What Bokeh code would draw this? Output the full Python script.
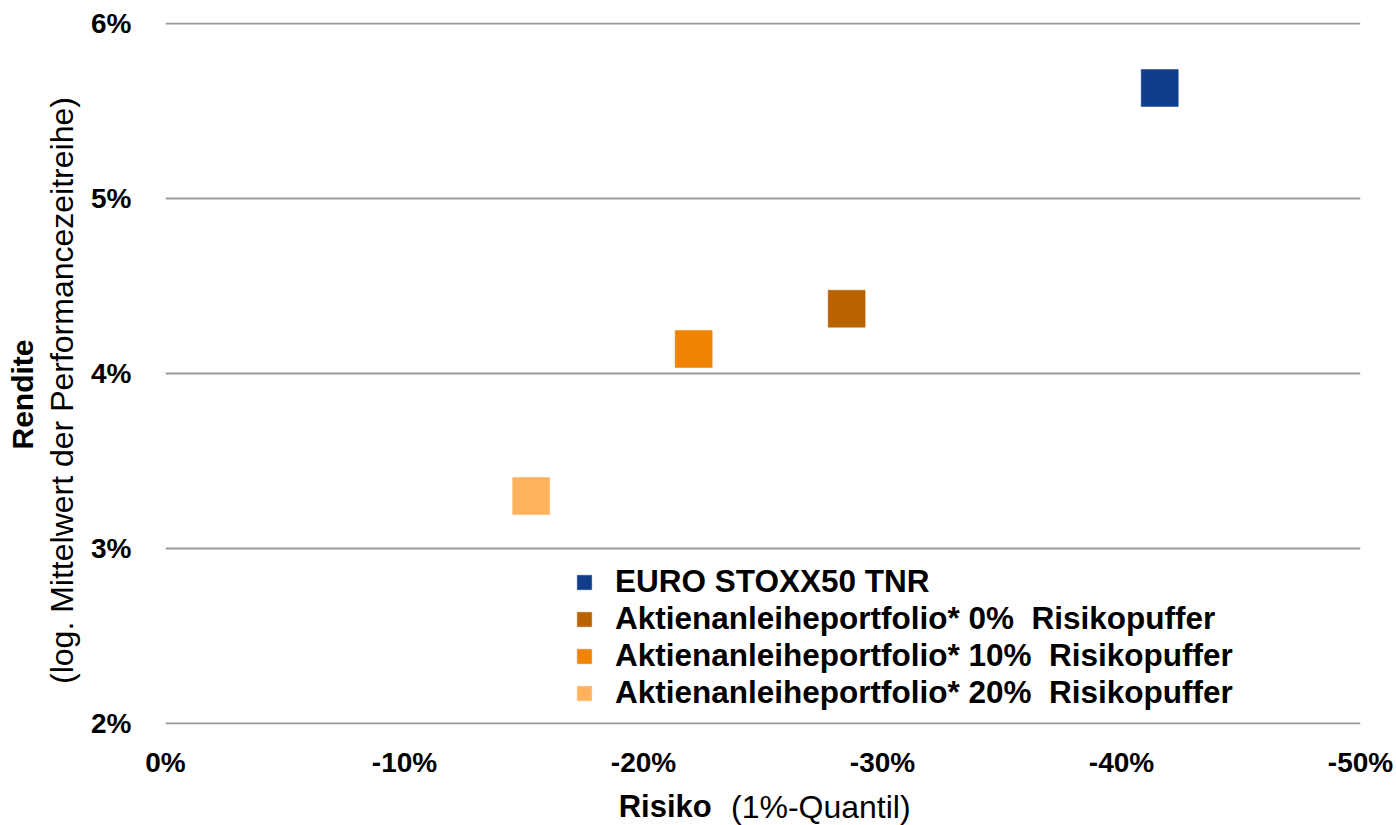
import math

from bokeh.embed import file_html
from bokeh.layouts import column, row
from bokeh.models import (ColumnDataSource, FixedTicker, Label, Legend,
                          LegendItem, PrintfTickFormatter, Range1d)
from bokeh.plotting import figure
from bokeh.resources import INLINE

# Risk (1% quantile, in %) and return (log. mean, in %) per portfolio
series_names = [
    "EURO STOXX50 TNR",
    "Aktienanleiheportfolio* 0%  Risikopuffer",
    "Aktienanleiheportfolio* 10%  Risikopuffer",
    "Aktienanleiheportfolio* 20%  Risikopuffer",
]
risk = [-41.6, -28.5, -22.1, -15.3]
ret = [5.63, 4.37, 4.14, 3.30]
colors = ["#0F3D8C", "#B86200", "#F08300", "#FFB25B"]

x_ticks = [0, -10, -20, -30, -40, -50]
y_ticks = [2, 3, 4, 5, 6]

FONT = "Liberation Sans"
LEFT_W = 88          # strip holding the y-axis title
BOTTOM_H = 40        # strip holding the x-axis title
TOTAL_W, TOTAL_H = 1396, 825


def blank_strip(w, h, x0, x1, y0, y1):
    """A figure without axes whose data units equal page pixels."""
    f = figure(width=w, height=h, x_range=Range1d(x0, x1),
               y_range=Range1d(y0, y1), x_axis_type=None, y_axis_type=None,
               output_backend="svg", toolbar_location=None,
               min_border=0, title=None)
    f.outline_line_color = None
    f.grid.visible = False
    f.background_fill_color = "white"
    f.border_fill_color = "white"
    return f


# ---- main scatter chart -------------------------------------------------
main_w = TOTAL_W - LEFT_W
main_h = TOTAL_H - BOTTOM_H
p = figure(
    width=main_w, height=main_h,
    x_range=Range1d(0, -50), y_range=Range1d(1.996, 6.004),
    output_backend="svg", toolbar_location=None, title=None,
    min_border_left=164 - LEFT_W, min_border_right=36,
    min_border_top=22, min_border_bottom=main_h - 724,
)
p.outline_line_color = None
p.background_fill_color = "white"
p.border_fill_color = "white"

for ax in (p.xaxis[0], p.yaxis[0]):
    ax.axis_line_color = None
    ax.major_tick_line_color = None
    ax.minor_tick_line_color = None
    ax.major_tick_out = 0
    ax.major_tick_in = 0
    ax.minor_tick_out = 0
    ax.major_label_text_font = FONT
    ax.major_label_text_font_style = "bold"
    ax.major_label_text_font_size = "28px"
    ax.major_label_text_color = "black"
    ax.formatter = PrintfTickFormatter(format="%d%%")

p.xaxis.ticker = FixedTicker(ticks=x_ticks)
p.yaxis.ticker = FixedTicker(ticks=y_ticks)
p.xaxis.major_label_standoff = 22
p.yaxis.major_label_standoff = 34

p.xgrid.grid_line_color = None
p.ygrid.grid_line_color = "#9A9A9A"
p.ygrid.grid_line_width = 2

items = []
for name, xv, yv, c in zip(series_names, risk, ret, colors):
    src = ColumnDataSource(data=dict(x=[xv], y=[yv]))
    r = p.scatter("x", "y", source=src, marker="square", size=37,
                  fill_color=c, line_color=c, line_width=0.5)
    items.append(LegendItem(label=name, renderers=[r]))

legend = Legend(
    items=items, location=(398, 13),
    glyph_width=42, glyph_height=36, label_height=36,
    label_standoff=10, spacing=0, padding=0, margin=0,
    label_text_font=FONT, label_text_font_style="bold",
    label_text_font_size="31.5px", label_text_color="black",
    border_line_color=None, background_fill_alpha=0,
)
p.add_layout(legend)

# ---- y-axis title (two lines, rotated) -----------------------------------
left = blank_strip(LEFT_W, TOTAL_H, 0, LEFT_W, TOTAL_H, 0)
left.add_layout(Label(x=22, y=394, text="Rendite", angle=math.pi / 2,
                      text_font=FONT, text_font_style="bold",
                      text_font_size="30px", text_align="center",
                      text_baseline="middle", text_color="black"))
left.add_layout(Label(x=61, y=390,
                      text="(log. Mittelwert der Performancezeitreihe)",
                      angle=math.pi / 2, text_font=FONT,
                      text_font_size="32px", text_align="center",
                      text_baseline="middle", text_color="black"))

# ---- x-axis title (bold term + regular explanation) ----------------------
bottom = blank_strip(main_w, BOTTOM_H, LEFT_W, TOTAL_W, TOTAL_H, main_h)
bottom.add_layout(Label(x=584, y=806, text="Risiko", text_font=FONT,
                        text_font_style="bold", text_font_size="31px",
                        text_baseline="alphabetic", text_align="left",
                        text_color="black"))
bottom.add_layout(Label(x=707, y=806, text="(1%-Quantil)", text_font=FONT,
                        text_font_size="32px", text_baseline="alphabetic",
                        text_align="left", text_color="black"))

page = row(left, column(p, bottom, spacing=0), spacing=0)
open("out.html", "w").write(file_html(page, INLINE))
